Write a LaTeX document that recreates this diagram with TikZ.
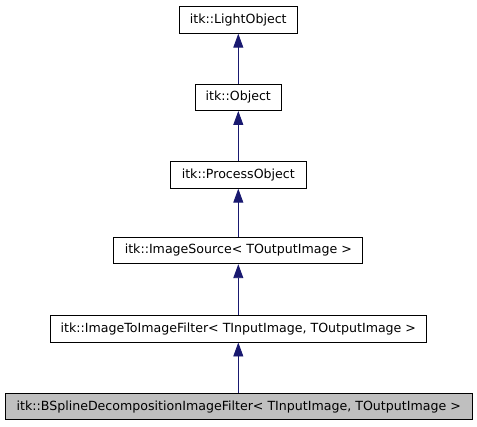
\documentclass[tikz,border=0pt]{standalone}
\usepackage{fontspec}
\setmainfont{DejaVu Sans}
\usetikzlibrary{arrows.meta}
\definecolor{edgeblue}{HTML}{191970}
\definecolor{boxgrey}{HTML}{BFBFBF}
\begin{document}
\begin{tikzpicture}[x=1pt,y=-1pt,
  cls/.style={draw=black,line width=0.9pt,fill=white,inner sep=0pt,minimum height=26.5pt,font=\fontsize{12.6}{14}\selectfont},
  inh/.style={draw=edgeblue,line width=0.9pt,-{Triangle[length=14pt,width=10pt]}}]
\useasboundingbox (0,0) rectangle (477,427);
\node[cls,minimum width=118pt] (light) at (238.3,20) {itk::LightObject};
\node[cls,minimum width=86.7pt] (obj) at (238.3,97.3) {itk::Object};
\node[cls,minimum width=136.7pt] (proc) at (238.3,175) {itk::ProcessObject};
\node[cls,minimum width=249pt] (src) at (238.3,250.5) {itk::ImageSource< TOutputImage >};
\node[cls,minimum width=376.7pt] (i2i) at (238.3,328.8) {itk::ImageToImageFilter< TInputImage, TOutputImage >};
\node[cls,fill=boxgrey,minimum width=467.3pt] (bsp) at (238.7,406.7) {itk::BSplineDecompositionImageFilter< TInputImage, TOutputImage >};
\draw[inh] (obj.north) -- (light.south);
\draw[inh] (proc.north) -- (obj.south);
\draw[inh] (src.north) -- (proc.south);
\draw[inh] (i2i.north) -- (src.south);
\draw[inh] (bsp.north -| i2i.south) -- (i2i.south);
\end{tikzpicture}
\end{document}
